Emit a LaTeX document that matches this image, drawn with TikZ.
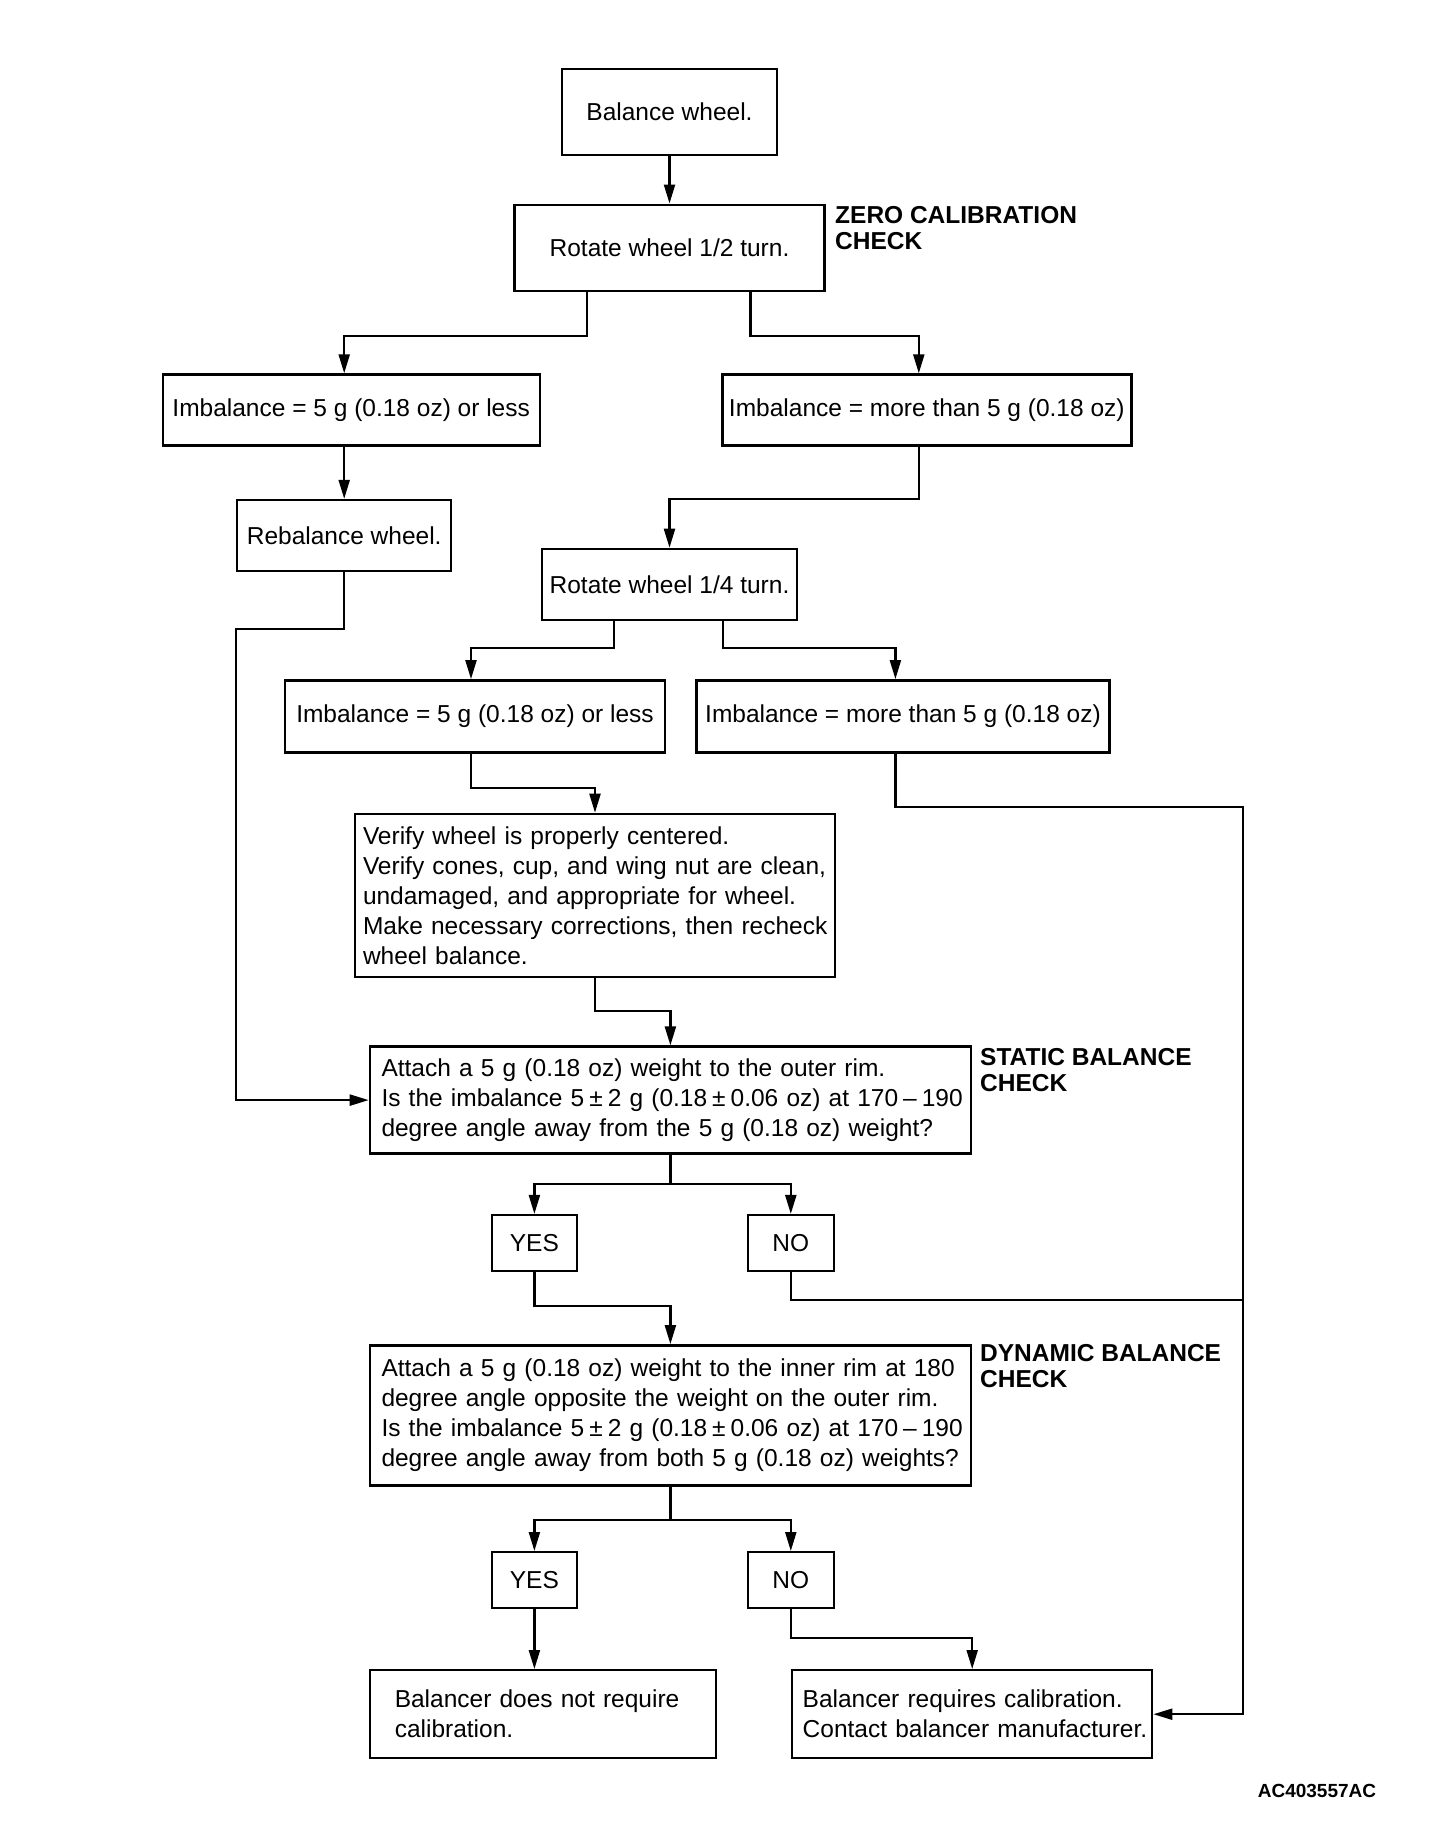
\documentclass[tikz,border=0pt]{standalone}
\usepackage{fontspec}
\setmainfont{Liberation Sans}
\usetikzlibrary{arrows.meta}
\newcommand\tsp{\hspace{5pt}}
\begin{document}
\begin{tikzpicture}[x=1pt,y=-1pt,
  every node/.style={font=\fontsize{24.5}{30}\selectfont},
  box/.style={draw, line width=2.4pt, inner sep=0pt, align=center},
  lbox/.style={draw, line width=2.4pt, inner ysep=0pt, align=left},
  lab/.style={font=\fontsize{24.5}{26}\selectfont\bfseries, align=left, anchor=west, inner sep=0pt},
  arr/.style={line width=2.2pt, -{Triangle[length=19pt,width=11pt]}},
  ln/.style={line width=2.2pt}]
\useasboundingbox (0,0) rectangle (1456,1824);

% boxes
\node[box, minimum width=215pt, minimum height=86pt] (bal) at (669.5,111.7) {Balance wheel.};
\node[box, minimum width=310pt, minimum height=86pt] (rot2) at (669.5,247.7) {Rotate wheel 1/2 turn.};
\node[box, minimum width=377pt, minimum height=71pt] (imb1) at (351.2,410) {Imbalance = 5 g (0.18 oz) or less};
\node[box, minimum width=409pt, minimum height=71pt] (imb2) at (926.8,410) {Imbalance = more than 5 g (0.18 oz)};
\node[box, minimum width=214pt, minimum height=71pt] (reb) at (344.2,535.5) {Rebalance wheel.};
\node[box, minimum width=255pt, minimum height=71pt] (rot4) at (669.5,584.4) {Rotate wheel 1/4 turn.};
\node[box, minimum width=380pt, minimum height=72pt] (imb3) at (475,716.3) {Imbalance = 5 g (0.18 oz) or less};
\node[box, minimum width=413pt, minimum height=72pt] (imb4) at (903,716.3) {Imbalance = more than 5 g (0.18 oz)};
\node[lbox, text width=464pt, inner xsep=8pt, minimum height=163pt] (ver) at (595,895.4)
  {Verify wheel is properly centered.\\
   \mbox{Verify cones, cup, and wing nut are clean,}\\
   undamaged, and appropriate for wheel.\\
   \mbox{Make necessary corrections, then recheck}\\
   wheel balance.};
\node[lbox, text width=577.8pt, inner xsep=11.6pt, minimum height=107pt] (stat) at (670.4,1100.1)
  {\mbox{Attach a 5 g (0.18 oz) weight to the outer rim.}\\
   \mbox{Is the imbalance 5\tsp±\tsp2 g (0.18\tsp±\tsp0.06 oz) at 170\tsp–\tsp190}\\
   \mbox{degree angle away from the 5 g (0.18 oz) weight?}};
\node[box, minimum width=85pt, minimum height=56pt] (yes1) at (534.4,1243.1) {YES};
\node[box, minimum width=86pt, minimum height=56pt] (no1) at (790.8,1243.1) {NO};
\node[lbox, text width=577.8pt, inner xsep=11.6pt, minimum height=140pt] (dyn) at (670.4,1415.3)
  {\mbox{Attach a 5 g (0.18 oz) weight to the inner rim at 180}\\
   \mbox{degree angle opposite the weight on the outer rim.}\\
   \mbox{Is the imbalance 5\tsp±\tsp2 g (0.18\tsp±\tsp0.06 oz) at 170\tsp–\tsp190}\\
   \mbox{degree angle away from both 5 g (0.18 oz) weights?}};
\node[box, minimum width=85pt, minimum height=56pt] (yes2) at (534.4,1580.2) {YES};
\node[box, minimum width=86pt, minimum height=56pt] (no2) at (790.8,1580.2) {NO};
\node[lbox, text width=296.5pt, inner xsep=25pt, minimum height=88pt] (nreq) at (543,1714.2)
  {Balancer does not require\\calibration.};
\node[lbox, text width=339pt, inner xsep=10.5pt, minimum height=88pt] (req) at (972.2,1714.2)
  {\mbox{Balancer requires calibration.}\\\mbox{Contact balancer manufacturer.}};

% labels
\node[lab] (zl) at (835,228) {ZERO CALIBRATION\\CHECK};
\node[lab] (sl) at (980,1070.5) {STATIC BALANCE\\CHECK};
\node[lab] (dl) at (980,1365.7) {DYNAMIC BALANCE\\CHECK};
\node[font=\fontsize{19}{22}\selectfont\bfseries, inner sep=0pt] (ac) at (1317,1791) {AC403557AC};

% connectors
\draw[arr] (bal) -- (rot2);
\draw[arr] ([xshift=-82.5pt]rot2.south) -- ++(0,44.3) -| ([xshift=-7pt]imb1.north);
\draw[arr] ([xshift=81pt]rot2.south) -- ++(0,44.3) -| ([xshift=-8pt]imb2.north);
\draw[arr] ([xshift=-7pt]imb1.south) -- (reb.north);
\draw[arr] ([xshift=-8pt]imb2.south) -- ++(0,52.3) -| (rot4.north);
\draw[arr] (reb.south) -- ++(0,57) -| ([xshift=-132.8pt]stat.west) -- (stat.west);
\draw[arr] ([xshift=-55.5pt]rot4.south) -- ++(0,26.8) -| ([xshift=-4pt]imb3.north);
\draw[arr] ([xshift=53.5pt]rot4.south) -- ++(0,26.8) -| ([xshift=-7.6pt]imb4.north);
\draw[arr] ([xshift=-4pt]imb3.south) -- ++(0,34.6) -| (ver.north);
\draw[arr] ([xshift=-7.6pt]imb4.south) -- ++(0,53.6) -| ([xshift=89.6pt]req.east) -- (req.east);
\draw[arr] (ver.south) -- ++(0,32.6) -| (stat.north);
\draw[arr] (stat.south) -- ++(0,29) -| (yes1.north);
\draw[arr] (stat.south) -- ++(0,29) -| (no1.north);
\draw[arr] (yes1.south) -- ++(0,34) -| (dyn.north);
\coordinate (j) at (1241.8,1300);
\draw[ln] (no1.south) |- (j);
\draw[arr] (dyn.south) -- ++(0,33.4) -| (yes2.north);
\draw[arr] (dyn.south) -- ++(0,33.4) -| (no2.north);
\draw[arr] (yes2.south) -- (yes2.south |- nreq.north);
\draw[arr] (no2.south) -- ++(0,28.8) -| (req.north);
\end{tikzpicture}
\end{document}
